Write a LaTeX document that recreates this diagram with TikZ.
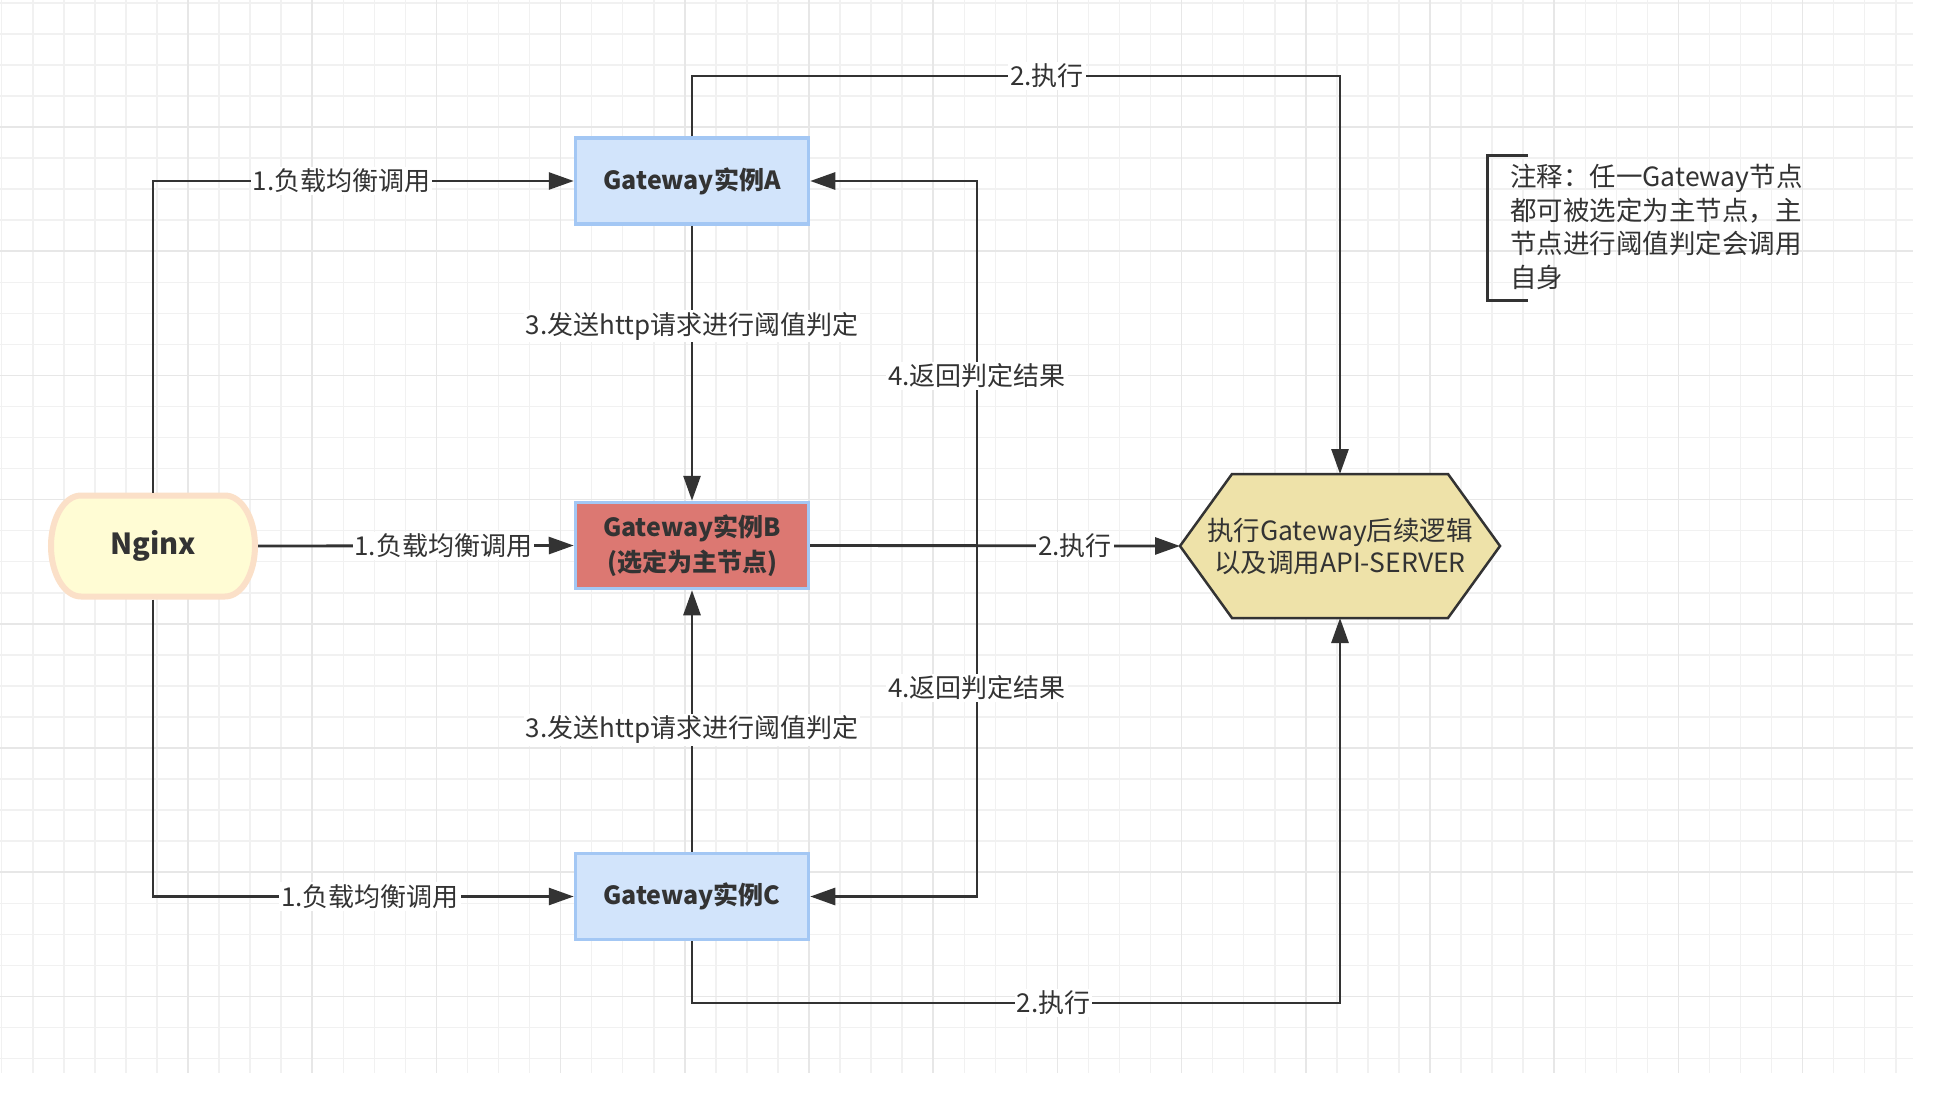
\documentclass[tikz,border=0pt]{standalone}
\usepackage{fontspec}
\setmainfont{Noto Sans CJK SC}
\usetikzlibrary{arrows.meta}
\pgfdeclarelayer{grid}
\pgfdeclarelayer{shapes}
\pgfsetlayers{grid,shapes,main}
\definecolor{ink}{HTML}{333333}
\definecolor{gridminor}{HTML}{F1F1F1}
\definecolor{gridmajor}{HTML}{E7E7E7}
\definecolor{gwfill}{HTML}{D2E4FB}
\definecolor{gwline}{HTML}{A3C7F4}
\definecolor{mainfill}{HTML}{DC7872}
\definecolor{nginxfill}{HTML}{FFFCD4}
\definecolor{nginxline}{HTML}{FBE0C8}
\definecolor{hexfill}{HTML}{EEE2A9}

\begin{document}
\begin{tikzpicture}[x=1pt, y=-1pt,
    every node/.style={text=ink, font=\fontsize{26}{32}\selectfont},
    gw/.style={draw=gwline, line width=3.5pt, fill=gwfill, minimum width=233pt, minimum height=86pt,
      align=center, font=\fontsize{25}{35}\selectfont\bfseries},
    mainnode/.style={gw, fill=mainfill},
    flow/.style={draw=ink, line width=2.8pt, -{Triangle[length=25pt,width=17pt]}},
    lbl/.style={fill=white, inner sep=2pt},
    gridline/.style={line width=1.5pt}]
  \useasboundingbox (0,0) rectangle (1952,1098);

  % grid paper
  \begin{pgfonlayer}{grid}
    \fill[white] (0,0) rectangle (1952,1098);
    \foreach \gx in {1.7,32.75,...,1913} \draw[gridminor, gridline] (\gx,0) -- (\gx,1073);
    \foreach \gy in {2.8,33.85,...,1073} \draw[gridminor, gridline] (0,\gy) -- (1913,\gy);
    \foreach \gx in {188,312.2,...,1913} \draw[gridmajor, gridline] (\gx,0) -- (\gx,1073);
    \foreach \gy in {127,251.2,...,1073} \draw[gridmajor, gridline] (0,\gy) -- (1913,\gy);
  \end{pgfonlayer}

  % nodes
  \node[minimum width=210pt, minimum height=107pt, outer sep=0pt,
    font=\fontsize{29}{34}\selectfont\bfseries] (nginx) at (153,546) {Nginx};
  \node[gw] (gwA) at (692,181) {Gateway实例A};
  \node[mainnode] (gwB) at (692,545.5) {Gateway实例B\\(选定为主节点)};
  \node[gw] (gwC) at (692,896.5) {Gateway实例C};
  \node[minimum width=320pt, minimum height=144pt, outer sep=0pt, align=center,
    font=\fontsize{26.5}{32}\selectfont] (hex) at (1340,546) {执行Gateway后续逻辑\\以及调用API-SERVER};
  \node[align=left, anchor=west, inner sep=0pt, font=\fontsize{26.5}{33.5}\selectfont] (note) at (1510,227)
    {注释：任一Gateway节点\\都可被选定为主节点，主\\节点进行阈值判定会调用\\自身};

  % outlines of nginx and hexagon
  \begin{pgfonlayer}{shapes}
    \draw[nginxline, fill=nginxfill, line width=6pt]
      ([xshift=33pt,yshift=-3pt]nginx.north west) -- ([xshift=-33pt,yshift=-3pt]nginx.north east)
      arc[start angle=90, end angle=-90, x radius=30pt, y radius=50.5pt]
      -- ([xshift=33pt,yshift=3pt]nginx.south west)
      arc[start angle=270, end angle=90, x radius=30pt, y radius=50.5pt] -- cycle;
    \draw[ink, fill=hexfill, line width=2.5pt]
      (hex.west) -- ([xshift=52pt]hex.north west) -- ([xshift=-52pt]hex.north east)
      -- (hex.east) -- ([xshift=-52pt]hex.south east) -- ([xshift=52pt]hex.south west) -- cycle;
  \end{pgfonlayer}

  % note bracket
  \draw[ink, line width=3pt] ([xshift=18pt,yshift=72pt]note.west) -| ([xshift=-23pt]note.west)
    |- ([xshift=18pt,yshift=-73pt]note.west);

  % bends
  \coordinate (backA) at (977,181);
  \coordinate (backC) at (977,896.5);
  \coordinate (topbend) at (1340,76);
  \coordinate (botbend) at (1340,1003);

  % 1. load balancing
  \draw[flow] (nginx.north) |- node[lbl, pos=0.724] {1.负载均衡调用} (gwA.west);
  \draw[flow] (nginx.east) -- node[lbl, pos=0.587] {1.负载均衡调用} (gwB.west);
  \draw[flow] (nginx.south) |- node[lbl, pos=0.758] {1.负载均衡调用} (gwC.west);

  % 3. threshold requests
  \draw[flow] (gwA.south) -- node[lbl, pos=0.366] {3.发送http请求进行阈值判定} (gwB.north);
  \draw[flow] (gwC.north) -- node[lbl, pos=0.466] {3.发送http请求进行阈值判定} (gwB.south);

  % 4. results back
  \draw[flow] (gwB.east) -| node[lbl, pos=0.733] {4.返回判定结果} (backA) -- (gwA.east);
  \draw[flow] (gwB.east) -| node[lbl, pos=0.703] {4.返回判定结果} (backC) -- (gwC.east);

  % 2. execute
  \draw[flow] (gwA.north) |- node[lbl, pos=0.774] {2.执行} (topbend) -- (hex.north);
  \draw[flow] (gwB.east) -- node[lbl, pos=0.716] {2.执行} (hex.west);
  \draw[flow] (gwC.south) |- node[lbl, pos=0.779] {2.执行} (botbend) -- (hex.south);
\end{tikzpicture}
\end{document}
